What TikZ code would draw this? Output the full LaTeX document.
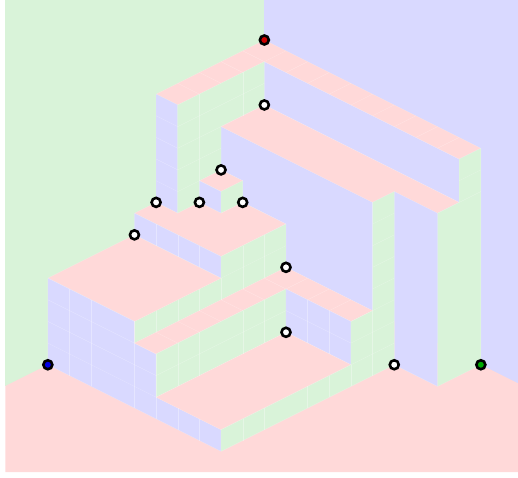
\documentclass[tikz,border=0pt]{standalone}
\definecolor{pk}{HTML}{FFD9D9}
\definecolor{gr}{HTML}{D9F3D9}
\definecolor{bl}{HTML}{D9D9FF}
\tikzset{
  pinkface/.style={fill=pk,draw=white,draw opacity=.3,line width=.3pt},
  greenface/.style={fill=gr,draw=white,draw opacity=.3,line width=.3pt},
  blueface/.style={fill=bl,draw=white,draw opacity=.3,line width=.3pt},
  gridline/.style={draw=white,opacity=.32,line width=.3pt},
  dot/.style={circle,draw=black,line width=2.6pt,minimum size=9pt,inner sep=0pt,fill=white}
}
\begin{document}
\begin{tikzpicture}[x=21.65pt,y=-10.825pt]
\useasboundingbox (-12.21,-3.695) rectangle (11.716,40.46);
% back walls
\fill[gr] (-11.963,-3.695) rectangle (0,32);
\fill[bl] (0,-3.695) rectangle (11.716,32);
% floor
\fill[pk] (-11.963,31.963) -- (-10,30) -- (0,20) -- (11.716,31.716) -- (11.716,39.91) -- (-11.963,39.91) -- cycle;
% big blue wall
\path[blueface] (-2,8) -- (0,6) -- (9,15) -- (9,11) -- (0,2) -- (0,20) -- (5,25) -- (5,15) -- cycle;
\path[blueface] (-2,8) -- (5,15) -- (5,25) -- (1,21) -- (1,17) -- (-1,15) -- (-1,13) -- (-2,12) -- cycle;
% top bar and beam
\path[pinkface] (0,0) -- (10,10) -- (9,11) -- (0,2) -- (-4,6) -- (-5,5) -- cycle;
\path[blueface] (-5,5) -- (-4,6) -- (-4,16) -- (-5,15) -- cycle;
\path[greenface] (-4,6) -- (0,2) -- (0,6) -- (-2,8) -- (-2,12) -- (-3,13) -- (-3,15) -- (-4,16) -- cycle;
% second platform
\path[pinkface] (0,6) -- (9,15) -- (8,16) -- (6,14) -- (5,15) -- (-2,8) -- cycle;
% right pillars
\path[blueface] (6,14) -- (8,16) -- (8,32) -- (6,30) -- cycle;
\path[greenface] (8,16) -- (9,15) -- (9,11) -- (10,10) -- (10,30) -- (8,32) -- cycle;
% small box
\path[pinkface] (-2,12) -- (-3,13) -- (-2,14) -- (-1,13) -- cycle;
\path[blueface] (-3,13) -- (-2,14) -- (-2,16) -- (-3,15) -- cycle;
\path[greenface] (-2,14) -- (-1,13) -- (-1,15) -- (-2,16) -- cycle;
% middle platform
\path[pinkface] (-6,16) -- (-5,15) -- (-4,16) -- (-3,15) -- (-2,16) -- (-1,15) -- (1,17) -- (-2,20) -- cycle;
\path[blueface] (-6,16) -- (-2,20) -- (-2,22) -- (-6,18) -- cycle;
\path[greenface] (-6,26) -- (-2,22) -- (-2,20) -- (1,17) -- (1,21) -- (-6,28) -- cycle;
% big platform
\path[pinkface] (-6,18) -- (-10,22) -- (-6,26) -- (-2,22) -- cycle;
\path[blueface] (-10,22) -- (-6,26) -- (-6,28) -- (-5,29) -- (-5,33) -- (-2,36) -- (-2,38) -- (-10,30) -- cycle;
% strip
\path[pinkface] (-6,28) -- (1,21) -- (5,25) -- (4,26) -- (1,23) -- (-5,29) -- cycle;
\path[greenface] (-5,29) -- (1,23) -- (1,27) -- (-5,33) -- cycle;
\path[blueface] (1,23) -- (4,26) -- (4,30) -- (1,27) -- cycle;
\path[pinkface] (-5,33) -- (1,27) -- (4,30) -- (-2,36) -- cycle;
\path[greenface] (-2,36) -- (4,30) -- (4,26) -- (5,25) -- (5,15) -- (6,14) -- (6,30) -- (-2,38) -- cycle;
% grid lines
\begin{scope}[gridline]
 \foreach \k in {1,...,9} \draw (\k,\k) -- ({\k-1},{\k+1});
 \foreach \k in {1,...,4} \draw ({-\k},\k) -- ({1-\k},{\k+1});
 \draw (-3,5) -- (-3,13); \draw (-1,3) -- (-1,7);
 \draw (-4,8) -- (0,4); \draw (-4,10) -- (-2,8); \draw (-4,12) -- (-2,10); \draw (-4,14) -- (-3,13);
 \foreach \b in {7,9,11,13} \draw (-5,\b) -- (-4,\b+1);
 \foreach \a/\b in {-5/17,-4/18,-3/19} \draw (\a,\b) -- (\a,\b+2);
 \draw (-1,19) -- (-1,23); \draw (0,18) -- (0,22); \draw (-2,22) -- (1,19);
 \foreach \a/\b in {-5/25,-4/24,-3/23,-2/22} \draw (\a,\b) -- (\a,\b+2);
 \draw (-9,23) -- (-9,31); \draw (-8,24) -- (-8,32); \draw (-6,26) -- (-6,34);
 \draw (-5,29) -- (-5,35); \draw (-4,34) -- (-4,36); \draw (-3,35) -- (-3,37);
 \draw (-10,24) -- (-6,28); \draw (-10,26) -- (-5,31); \draw (-10,28) -- (-5,33);
 \foreach \a/\b in {-5/27,-4/26,-3/25,-2/24,-1/23,0/22} \draw (\a,\b) -- (\a+1,\b+1);
 \draw (2,22) -- (1,23); \draw (3,23) -- (2,24); \draw (4,24) -- (3,25);
 \draw (-4,28) -- (-4,32); \draw (-3,27) -- (-3,31); \draw (-1,25) -- (-1,29); \draw (0,24) -- (0,28);
 \draw (-5,31) -- (1,25);
 \draw (2,24) -- (2,28); \draw (3,25) -- (3,29); \draw (1,25) -- (4,28);
 \draw (-1,35) -- (-1,37); \draw (0,34) -- (0,36); \draw (2,32) -- (2,34); \draw (3,31) -- (3,33);
 \draw (4,30) -- (4,32); \draw (5,25) -- (5,31);
 \foreach \b in {17,19,21,23} \draw (5,\b) -- (6,\b-1);
 \draw (4,26) -- (6,24); \draw (4,28) -- (6,26); \draw (4,30) -- (6,28);
 \draw (9,13) -- (10,12); \draw (9,15) -- (10,14);
\end{scope}
% dots
\node[dot,fill={rgb,255:red,204;green,0;blue,0}] (red) at (0,0) {};
\node[dot,fill={rgb,255:red,0;green,0;blue,230}] (blue) at (-10,30) {};
\node[dot,fill={rgb,255:red,0;green,170;blue,0}] (green) at (10,30) {};
\node[dot] (w1) at (0,6) {};
\node[dot] (w2) at (-2,12) {};
\node[dot] (w3) at (-5,15) {};
\node[dot] (w4) at (-3,15) {};
\node[dot] (w5) at (-1,15) {};
\node[dot] (w6) at (-6,18) {};
\node[dot] (w7) at (1,21) {};
\node[dot] (w8) at (1,27) {};
\node[dot] (w9) at (6,30) {};
\end{tikzpicture}
\end{document}
